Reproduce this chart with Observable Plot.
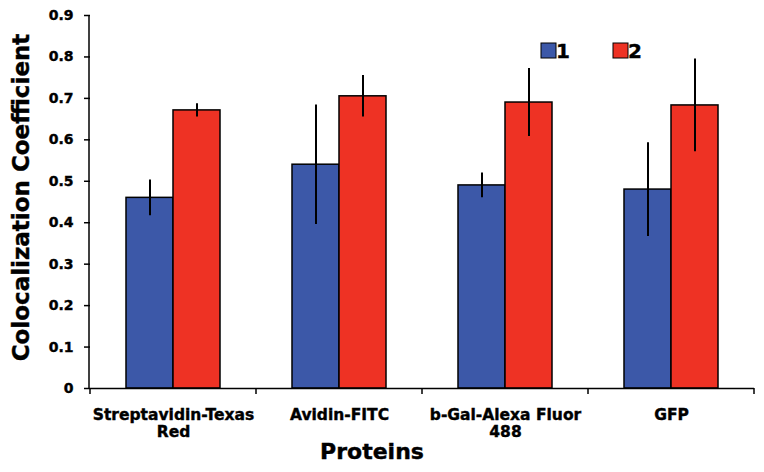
<!DOCTYPE html>
<html>
<head>
<meta charset="utf-8">
<script src="https://cdn.jsdelivr.net/npm/d3@7"></script>
<script src="https://cdn.jsdelivr.net/npm/@observablehq/plot@0.6"></script>
<style>
  html, body { margin: 0; padding: 0; background: #fff; }
  svg text { font-family: "DejaVu Sans", sans-serif; font-weight: bold; stroke: black; stroke-width: 0.4px; }
</style>
</head>
<body>
<div id="chart"></div>
<script>
const proteins = ["Streptavidin-Texas\nRed", "Avidin-FITC", "b-Gal-Alexa Fluor\n488", "GFP"];
const series = ["1", "2"];
const values1 = [0.46, 0.54, 0.49, 0.48];
const values2 = [0.671, 0.705, 0.69, 0.683];
const errors1 = [0.043, 0.144, 0.03, 0.113];
const errors2 = [0.016, 0.05, 0.082, 0.112];
const yTicks = [0, 0.1, 0.2, 0.3, 0.4, 0.5, 0.6, 0.7, 0.8, 0.9];
const colors = ["#3C58A8", "#EE3224"];
const yTitle = "Colocalization Coefficient";
const xTitle = "Proteins";

const data = [];
proteins.forEach((p, i) => {
  data.push({protein: p, series: series[0], value: values1[i], err: errors1[i]});
  data.push({protein: p, series: series[1], value: values2[i], err: errors2[i]});
});

const W = 764, H = 472;
const mL = 89, mR = 9, mT = 15, mB = 84;

const plot = Plot.plot({
  width: W, height: H,
  marginLeft: mL, marginRight: mR, marginTop: mT, marginBottom: mB,
  style: {fontFamily: "DejaVu Sans", fontWeight: "bold", color: "black", background: "white"},
  fx: {domain: proteins, padding: 0, label: null, axis: null},
  x: {domain: series, paddingInner: 0, paddingOuter: 0.75, axis: null},
  y: {domain: [0, 0.9], label: null},
  color: {domain: series, range: colors},
  marks: [
    Plot.barY(data, {fx: "protein", x: "series", y: "value", fill: "series", stroke: "black", strokeWidth: 1.5}),
    Plot.ruleX(data, {fx: "protein", x: "series", y1: d => d.value - d.err, y2: d => d.value + d.err, stroke: "black", strokeWidth: 2}),
    Plot.ruleY([0], {stroke: "black", strokeWidth: 1.5}),
    Plot.axisY({ticks: yTicks, tickSize: 6, tickPadding: 11, tickFormat: d3.format("~g"), fontSize: 14, fontWeight: "bold", stroke: "black", strokeWidth: 1.5, label: null}),
    Plot.axisFx({anchor: "bottom", tickSize: 0, tickPadding: 20, fontSize: 15.5, fontWeight: "bold", lineHeight: 1.06, label: null})
  ]
});

document.getElementById("chart").appendChild(plot);

const svg = d3.select(plot);
const y = plot.scale("y");
const fx = plot.scale("fx");
const color = plot.scale("color");

// y axis line
svg.append("line")
  .attr("x1", mL).attr("x2", mL)
  .attr("y1", y.apply(0.9)).attr("y2", y.apply(0))
  .attr("stroke", "black").attr("stroke-width", 1.5);

// category boundary ticks
const bounds = proteins.map(p => fx.apply(p));
bounds.push(fx.apply(proteins[proteins.length - 1]) + fx.bandwidth);
bounds.forEach(bx => {
  svg.append("line")
    .attr("x1", bx).attr("x2", bx)
    .attr("y1", y.apply(0)).attr("y2", y.apply(0) + 6)
    .attr("stroke", "black").attr("stroke-width", 1.5);
});

// titles
svg.append("text")
  .attr("transform", `translate(28.5,${(y.apply(0) + y.apply(0.9)) / 2 - 4}) rotate(-90)`)
  .attr("text-anchor", "middle")
  .attr("font-size", 23)
  .attr("fill", "black")
  .text(yTitle);

svg.append("text")
  .attr("x", 372).attr("y", 459)
  .attr("text-anchor", "middle")
  .attr("font-size", 22)
  .attr("fill", "black")
  .text(xTitle);

// legend
const legX = [541, 613];
series.forEach((s, i) => {
  svg.append("rect")
    .attr("x", legX[i]).attr("y", 43).attr("width", 15).attr("height", 15)
    .attr("fill", color.apply(s)).attr("stroke", "black").attr("stroke-width", 1);
  svg.append("text")
    .attr("x", legX[i] + 22).attr("y", 58)
    .attr("font-size", 20)
    .attr("fill", "black")
    .text(s);
});
</script>
</body>
</html>
